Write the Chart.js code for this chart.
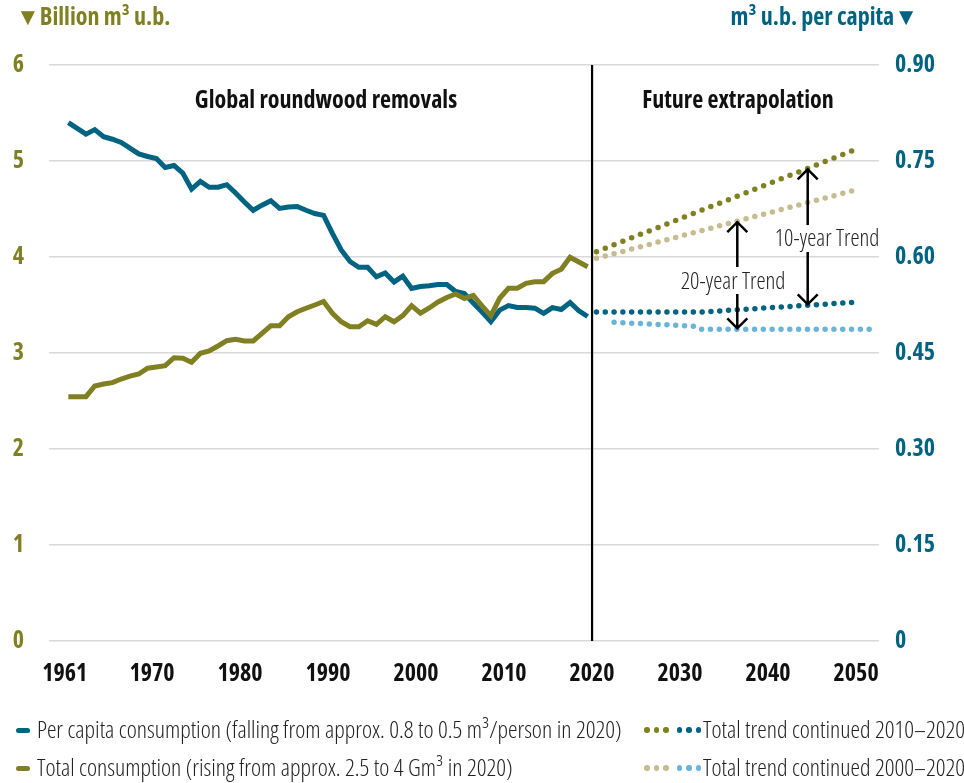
<!DOCTYPE html>
<html>
<head>
<meta charset="utf-8">
<script src="https://cdn.jsdelivr.net/npm/chart.js@4.4.0/dist/chart.umd.min.js"></script>
<style>
  body { margin: 0; background: #fff; }
  #wrap { position: relative; width: 964px; height: 783px; overflow: hidden; }
  #chart { position: absolute; left: 0; top: 0; }
  .leg { position: absolute; font-family: 'Open Sans', sans-serif; font-stretch: 75%; font-weight: 300; font-size: 24px; color: #222; white-space: nowrap; line-height: 28px; }
  .bar { display: inline-block; width: 14px; height: 5px; border-radius: 3px; vertical-align: middle; margin: 0 7px 3px 2px; }
  .dot { display: inline-block; width: 5.5px; height: 5.5px; border-radius: 50%; vertical-align: middle; margin: 0 2px 3px 2px; }
  .gap { margin-left: 6px; }
</style>
</head>
<body>
<div id="wrap">
  <canvas id="chart" width="964" height="783"></canvas>
  <div class="leg" style="left:14px;top:715px"><span class="bar" style="background:#006382"></span>Per capita consumption (falling from approx. 0.8 to 0.5 m³/person in 2020)</div>
  <div class="leg" style="left:14px;top:753px"><span class="bar" style="background:#808022"></span>Total consumption (rising from approx. 2.5 to 4 Gm³ in 2020)</div>
  <div class="leg" style="left:642px;top:715px"><span class="dot" style="background:#808022"></span><span class="dot" style="background:#808022"></span><span class="dot" style="background:#808022"></span><span class="dot gap" style="background:#006382"></span><span class="dot" style="background:#006382"></span><span class="dot" style="background:#006382"></span>Total trend continued 2010–2020</div>
  <div class="leg" style="left:642px;top:753px"><span class="dot" style="background:#c7bc8f"></span><span class="dot" style="background:#c7bc8f"></span><span class="dot" style="background:#c7bc8f"></span><span class="dot gap" style="background:#6bb4d9"></span><span class="dot" style="background:#6bb4d9"></span><span class="dot" style="background:#6bb4d9"></span>Total trend continued 2000–2020</div>
</div>
<script>
var years = [];
for (var yr = 1961; yr <= 2020; yr++) years.push(yr);

// m3 u.b. per capita (right axis)
var perCapita = [0.810, 0.801, 0.792, 0.799, 0.788, 0.784, 0.779, 0.770, 0.761, 0.757,
  0.754, 0.740, 0.743, 0.731, 0.706, 0.718, 0.709, 0.709, 0.713, 0.700,
  0.686, 0.673, 0.681, 0.688, 0.676, 0.678, 0.679, 0.673, 0.668, 0.665,
  0.637, 0.611, 0.593, 0.584, 0.584, 0.569, 0.575, 0.561, 0.570, 0.551,
  0.554, 0.555, 0.557, 0.557, 0.546, 0.543, 0.528, 0.514, 0.499, 0.517,
  0.524, 0.521, 0.521, 0.520, 0.512, 0.521, 0.518, 0.529, 0.516, 0.507];

// billion m3 u.b. (left axis)
var totalCons = [2.545, 2.545, 2.545, 2.656, 2.677, 2.691, 2.729, 2.760, 2.781, 2.841,
  2.854, 2.868, 2.951, 2.945, 2.903, 2.997, 3.021, 3.073, 3.128, 3.143,
  3.125, 3.125, 3.205, 3.284, 3.284, 3.378, 3.430, 3.466, 3.500, 3.536,
  3.414, 3.326, 3.274, 3.274, 3.336, 3.299, 3.378, 3.326, 3.389, 3.493,
  3.414, 3.469, 3.531, 3.578, 3.615, 3.568, 3.599, 3.490, 3.389, 3.570,
  3.674, 3.674, 3.726, 3.743, 3.743, 3.830, 3.872, 3.997, 3.948, 3.899];

// trend continued 2010-2020
var trend10Years = [2021, 2050];
var trend10Total = [4.055, 5.104];
var trend10PcYears = [2021, 2033, 2050];
var trend10PerCapita = [0.514, 0.514, 0.529];

// trend continued 2000-2020
var trend20Years = [2021, 2050];
var trend20Total = [3.986, 4.688];
var trend20PcYears = [2023, 2032, 2033, 2052];
var trend20PerCapita = [0.498, 0.492, 0.487, 0.487];

var xTickYears = [1961, 1970, 1980, 1990, 2000, 2010, 2020, 2030, 2040, 2050];
var xTickLabels = ['1961', '1970', '1980', '1990', '2000', '2010', '2020', '2030', '2040', '2050'];
var leftTicks = [0, 1, 2, 3, 4, 5, 6];
var rightTicks = [0, 0.15, 0.30, 0.45, 0.60, 0.75, 0.90];
var rightTickLabels = ['0', '0.15', '0.30', '0.45', '0.60', '0.75', '0.90'];

var BLUE = '#006382', OLIVE = '#808022', TAN = '#c7bc8f', LIGHTBLUE = '#6bb4d9';
var FONT = "'Open Sans', sans-serif";
var BOLD = 'bold condensed';

function pts(xs, ys) {
  return xs.map(function(x, i) { return { x: x, y: ys[i] }; });
}

// one dot per year along the dotted trend lines
function dotDash(ctx) {
  var chart = ctx.chart, ds = ctx.dataset;
  if (!chart.chartArea) return [0, 9];
  var xs = chart.scales.x, ys = chart.scales[ds.yAxisID];
  var len = 0;
  for (var i = 1; i < ds.data.length; i++) {
    var dx = xs.getPixelForValue(ds.data[i].x) - xs.getPixelForValue(ds.data[i - 1].x);
    var dy = ys.getPixelForValue(ds.data[i].y) - ys.getPixelForValue(ds.data[i - 1].y);
    len += Math.sqrt(dx * dx + dy * dy);
  }
  var n = ds.data[ds.data.length - 1].x - ds.data[0].x;
  return [0, len / n * 0.9995];
}

function dotted(label, data, color, axis) {
  return {
    label: label, data: data, yAxisID: axis,
    borderColor: color, backgroundColor: color, borderWidth: 5.5,
    borderCapStyle: 'round', borderDash: dotDash, pointRadius: 0, tension: 0
  };
}

function valueAt(xs, ys, x) {
  for (var i = 1; i < xs.length; i++) {
    if (x <= xs[i]) return ys[i - 1] + (ys[i] - ys[i - 1]) * (x - xs[i - 1]) / (xs[i] - xs[i - 1]);
  }
  return ys[ys.length - 1];
}

function arrow(c, x, yTop, yBot, gapTop, gapBot) {
  c.beginPath();
  c.moveTo(x, yTop); c.lineTo(x, gapTop);
  c.moveTo(x, gapBot); c.lineTo(x, yBot);
  c.moveTo(x - 10, yTop + 11); c.lineTo(x, yTop + 1); c.lineTo(x + 10, yTop + 11);
  c.moveTo(x - 10, yBot - 11); c.lineTo(x, yBot - 1); c.lineTo(x + 10, yBot - 11);
  c.stroke();
}

var annotate = {
  id: 'annotate',
  afterDatasetsDraw: function(chart) {
    var c = chart.ctx, a = chart.chartArea;
    var xs = chart.scales.x, yl = chart.scales.y, yr = chart.scales.y2;
    c.save();
    var xd = xs.getPixelForValue(2020.5);
    c.strokeStyle = '#000';
    c.lineWidth = 2.2;
    c.beginPath(); c.moveTo(xd, a.top); c.lineTo(xd, a.bottom); c.stroke();

    c.fillStyle = '#111';
    c.textAlign = 'center';
    c.textBaseline = 'middle';
    c.font = BOLD + ' 24px ' + FONT;
    c.fillText('Global roundwood removals', 326, 101);
    c.fillText('Future extrapolation', 738, 101);

    c.lineWidth = 2.5;
    var x20 = xs.getPixelForValue(2037);
    arrow(c, x20, yl.getPixelForValue(valueAt(trend20Years, trend20Total, 2037)),
      yr.getPixelForValue(valueAt(trend20PcYears, trend20PerCapita, 2037)), 267, 294);
    var x10 = xs.getPixelForValue(2045);
    arrow(c, x10, yl.getPixelForValue(valueAt(trend10Years, trend10Total, 2045)),
      yr.getPixelForValue(valueAt(trend10PcYears, trend10PerCapita, 2045)), 225, 252);

    c.font = '300 condensed 23px ' + FONT;
    c.fillStyle = '#222';
    c.fillText('20-year Trend', 733, 282);
    c.fillText('10-year Trend', 827, 239);
    c.restore();
  },
  afterDraw: function(chart) {
    var c = chart.ctx;
    c.save();
    c.font = BOLD + ' 24px ' + FONT;
    c.textBaseline = 'middle';
    c.fillStyle = OLIVE;
    c.textAlign = 'left';
    c.fillText('▼Billion m³ u.b.', 16, 18);
    c.fillStyle = BLUE;
    c.textAlign = 'right';
    c.fillText('m³ u.b. per capita▼', 918, 18);
    c.restore();
  }
};

var ctx = document.getElementById('chart').getContext('2d');
var myChart = new Chart(ctx, {
  type: 'line',
  data: {
    datasets: [
      dotted('Trend 2000-2020 total', pts(trend20Years, trend20Total), TAN, 'y'),
      dotted('Trend 2000-2020 per capita', pts(trend20PcYears, trend20PerCapita), LIGHTBLUE, 'y2'),
      dotted('Trend 2010-2020 total', pts(trend10Years, trend10Total), OLIVE, 'y'),
      dotted('Trend 2010-2020 per capita', pts(trend10PcYears, trend10PerCapita), BLUE, 'y2'),
      {
        label: 'Total consumption', data: pts(years, totalCons), yAxisID: 'y',
        borderColor: OLIVE, borderWidth: 5, pointRadius: 0, tension: 0
      },
      {
        label: 'Per capita consumption', data: pts(years, perCapita), yAxisID: 'y2',
        borderColor: BLUE, borderWidth: 5, pointRadius: 0, tension: 0
      }
    ]
  },
  options: {
    responsive: false,
    animation: false,
    layout: { padding: { top: 65, bottom: 102, left: 0, right: 0 } },
    plugins: { legend: { display: false }, tooltip: { enabled: false } },
    scales: {
      x: {
        type: 'linear', min: 1958.8, max: 2053.1,
        grid: { display: false },
        border: { display: false },
        afterBuildTicks: function(scale) {
          scale.ticks = xTickYears.map(function(v, i) { return { value: i === 0 ? v - 0.4 : v + 0.5 }; });
        },
        afterFit: function(scale) { scale.height = 40; },
        ticks: {
          autoSkip: false, maxRotation: 0, padding: 11, color: '#111',
          font: { family: FONT, size: 24, weight: BOLD },
          callback: function(v, i) { return xTickLabels[i]; }
        }
      },
      y: {
        position: 'left', min: 0, max: 6,
        afterBuildTicks: function(scale) {
          scale.ticks = leftTicks.map(function(v) { return { value: v }; });
        },
        afterFit: function(scale) { scale.width = 49; },
        grid: { color: '#d9d9d9', lineWidth: 1.5, drawTicks: false },
        border: { display: false },
        ticks: {
          padding: 25, color: OLIVE,
          font: { family: FONT, size: 24, weight: BOLD }
        }
      },
      y2: {
        position: 'right', min: 0, max: 0.9,
        afterBuildTicks: function(scale) {
          scale.ticks = rightTicks.map(function(v) { return { value: v }; });
        },
        afterFit: function(scale) { scale.width = 85; },
        grid: { display: false },
        border: { display: false },
        ticks: {
          padding: 8, color: BLUE,
          font: { family: FONT, size: 24, weight: BOLD },
          callback: function(v, i) { return rightTickLabels[i]; }
        }
      }
    }
  },
  plugins: [annotate]
});
</script>
</body>
</html>
